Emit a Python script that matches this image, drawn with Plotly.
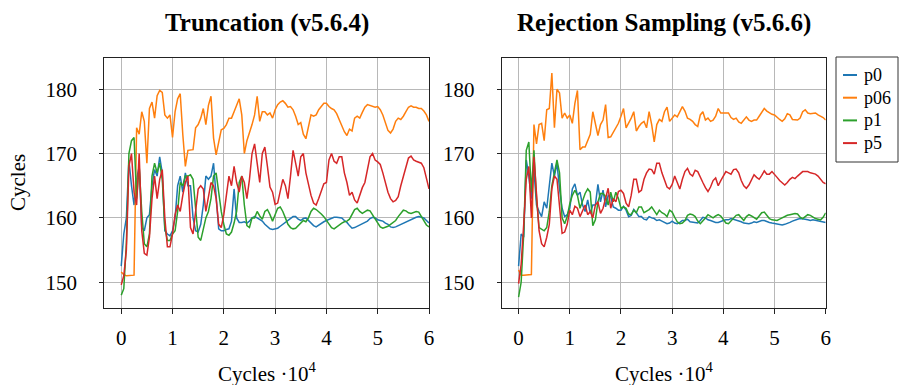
import numpy as np
import plotly.graph_objects as go

# x grid in units of 10^4 cycles
cycles = np.round(np.arange(0, 121) * 0.05, 2)
x_ticks = [0, 1, 2, 3, 4, 5, 6]
y_ticks = [150, 160, 170, 180]
series_names = ["p0", "p06", "p1", "p5"]
colors = ["#1f77b4", "#ff7f0e", "#2ca02c", "#d62728"]

# ---- Truncation (v5.6.4) ----
L_p06 = [151.6, 151.2, 151.0, 151.0, 151.0, 151.1, 174.0, 173.0, 176.5, 175.0, 168.5, 177.0, 178.0, 175.5, 179.0, 179.8, 179.5, 176.0, 175.5, 176.0,
         172.5, 176.5, 178.5, 179.3, 173.0, 168.0, 170.5, 170.5, 170.6, 174.0, 174.5, 175.5, 177.0, 174.5, 177.5, 178.9, 172.4, 169.8, 171.6, 173.7,
         173.9, 174.5, 175.5, 175.5, 176.5, 177.5, 178.5, 176.0, 170.0, 172.0, 173.2, 174.5, 176.0, 178.9, 175.0, 176.5, 176.5, 176.0, 176.3, 175.5,
         176.8, 177.6, 178.0, 178.2, 177.8, 177.2, 177.3, 176.8, 175.8, 174.5, 174.8, 173.0, 172.3, 174.0, 176.0, 175.8, 176.0, 176.8, 177.4, 177.8,
         177.8, 177.3, 177.0, 176.8, 176.2, 175.2, 174.5, 173.4, 172.8, 173.8, 173.5, 175.5, 175.8, 175.5, 176.4, 177.2, 177.6, 177.5, 177.3, 177.2,
         177.3, 176.8, 176.0, 174.8, 173.6, 173.2, 173.8, 175.0, 175.5, 175.3, 175.8, 176.5, 177.2, 177.4, 177.2, 177.2, 177.0, 177.0, 176.6, 176.0,
         175.0]
L_p0 = [152.5, 157.5, 160.0, 169.0, 165.0, 162.0, 166.0, 168.0, 158.5, 158.0, 160.0, 160.5, 165.0, 167.5, 166.5, 169.5, 167.0, 158.0, 157.5, 157.2,
        158.0, 160.0, 165.0, 166.5, 164.0, 167.0, 165.0, 165.0, 160.0, 158.0, 157.8, 159.0, 162.0, 166.5, 166.0, 166.5, 168.5, 163.0, 158.3, 158.0,
        158.0, 158.2, 158.3, 159.5, 164.5, 160.0, 159.3, 159.3, 159.4, 159.2, 159.5, 160.0, 160.2, 160.0, 159.8, 159.5, 159.0, 158.6, 158.3, 158.2,
        158.3, 158.4, 158.7, 159.0, 159.3, 159.7, 160.0, 160.2, 160.2, 159.8, 159.6, 159.9, 160.0, 159.6, 159.2, 158.8, 158.6, 158.9, 159.2, 159.4,
        159.6, 159.8, 160.0, 160.1, 160.1, 160.1, 160.0, 159.6, 159.3, 158.8, 158.4, 158.5, 158.7, 158.9, 159.0, 159.3, 159.5, 159.9, 160.1, 160.0,
        159.7, 159.6, 159.5, 159.2, 159.0, 158.6, 158.5, 158.6, 158.8, 159.0, 159.2, 159.4, 159.5, 159.7, 160.0, 160.1, 160.2, 160.1, 160.0, 159.6,
        159.2]
L_p1 = [148.0, 149.0, 156.0, 170.0, 172.0, 172.5, 163.0, 168.0, 161.0, 156.0, 155.5, 157.5, 166.5, 168.5, 167.0, 168.5, 166.0, 158.5, 156.5, 156.5,
        157.5, 158.0, 161.0, 165.5, 165.0, 166.5, 166.5, 166.7, 166.0, 162.0, 157.0, 156.5, 158.5, 160.0, 161.0, 163.0, 166.5, 167.0, 164.0, 161.0,
        159.0, 157.5, 157.3, 157.8, 159.2, 161.0, 165.5, 166.5, 162.0, 158.8, 158.5, 160.0, 160.0, 161.0, 160.3, 159.8, 161.0, 161.3, 160.5, 159.5,
        160.5, 161.5, 161.7, 161.0, 160.0, 159.0, 158.5, 158.3, 158.4, 158.8, 159.3, 159.6, 159.4, 160.0, 161.0, 161.5, 161.3, 161.0, 160.6, 160.2,
        159.6, 159.0, 158.5, 158.3, 158.6, 159.0, 159.2, 159.4, 159.5, 159.8, 160.5, 161.3, 161.5, 161.0, 160.7, 161.0, 161.2, 161.1, 160.5, 159.8,
        159.1, 158.6, 158.4, 158.5, 158.7, 159.0, 159.3, 159.6, 160.2, 160.8, 161.2, 161.1, 160.8, 160.7, 160.9, 161.0, 160.9, 160.2, 159.5, 158.9,
        158.6]
L_p5 = [149.6, 151.0, 155.0, 168.0, 170.0, 164.0, 162.0, 170.0, 158.0, 154.5, 154.2, 157.0, 163.0, 166.5, 163.0, 166.0, 167.5, 160.0, 155.5, 155.5,
        157.5, 160.5, 162.0, 161.0, 163.5, 165.5, 166.5, 158.5, 157.5, 161.0, 164.5, 165.0, 164.5, 161.0, 163.0, 165.5, 165.0, 163.0, 159.0, 158.5,
        160.5, 164.0, 166.5, 165.0, 168.0, 165.5, 164.0, 166.5, 165.5, 163.0, 166.0, 170.0, 171.5, 168.5, 165.5, 170.0, 171.0, 168.0, 164.8, 164.0,
        162.1, 162.3, 164.0, 166.0, 165.0, 163.0, 166.5, 170.5, 168.5, 166.5, 169.5, 170.0, 167.0, 165.1, 163.5, 162.3, 162.0, 163.0, 164.3, 165.3,
        165.5, 169.0, 170.0, 168.8, 168.5, 169.5, 169.5, 167.0, 165.5, 163.5, 164.0, 162.8, 162.3, 163.5, 164.7, 165.5, 167.5, 169.5, 170.0, 169.0,
        168.7, 168.3, 167.0, 165.5, 164.0, 163.0, 162.5, 162.7, 163.3, 165.0, 166.5, 168.0, 169.3, 169.6, 169.0, 168.8, 168.6, 168.5, 167.8, 166.0,
        164.5]

# ---- Rejection Sampling (v5.6.6) ----
R_p06 = [151.9, 151.1, 151.1, 151.1, 151.1, 151.2, 174.5, 171.5, 174.5, 174.7, 172.0, 176.8, 177.0, 182.5, 174.0, 180.0, 179.4, 175.5, 176.3, 175.5,
         176.0, 174.7, 177.8, 179.8, 170.6, 171.0, 171.0, 172.0, 173.0, 176.5, 174.5, 172.8, 174.5, 175.2, 177.6, 172.5, 172.6, 173.3, 174.2, 174.7,
         175.8, 177.0, 174.0, 174.7, 175.5, 176.5, 173.5, 174.2, 174.7, 175.0, 174.0, 176.5, 174.5, 171.8, 174.5, 175.3, 175.0, 176.5, 177.2, 175.0,
         175.5, 176.0, 175.7, 176.5, 177.3, 176.6, 175.5, 175.3, 175.0, 174.5, 174.2, 176.0, 176.5, 175.2, 175.5, 175.0, 175.2, 175.8, 177.0, 176.3,
         176.3, 176.2, 176.3, 175.6, 175.3, 175.5, 174.9, 174.7, 175.3, 175.7, 175.2, 175.0, 175.2, 175.2, 175.8, 176.5, 177.0, 176.6, 176.3, 176.1,
         176.0, 175.6, 175.3, 175.0, 175.4, 176.2, 176.0, 175.3, 175.2, 175.2, 175.5, 176.5, 176.8, 176.3, 176.2, 176.2, 176.3, 176.0, 175.8, 175.6,
         175.2]
R_p0 = [152.5, 157.5, 157.0, 169.0, 166.5, 163.0, 167.5, 162.0, 161.0, 160.2, 162.5, 161.5, 165.0, 168.5, 166.5, 168.5, 164.5, 161.5, 160.2, 160.5,
        161.5, 164.5, 165.3, 163.5, 164.0, 162.0, 161.0, 162.8, 160.7, 162.0, 162.0, 165.2, 162.5, 164.3, 161.7, 163.5, 163.3, 161.7, 161.5, 161.2,
        161.2, 161.8, 161.2, 160.2, 160.4, 161.3, 160.8, 160.2, 160.2, 159.8, 159.7, 160.2, 160.0, 159.9, 159.6, 159.7, 159.5, 159.3, 159.1, 159.2,
        159.5, 159.2, 159.1, 159.3, 159.6, 159.6, 159.8, 159.4, 159.3, 159.2, 159.2, 159.6, 160.1, 160.0, 159.7, 159.6, 159.4, 159.3, 159.3, 159.5,
        159.6, 159.7, 159.7, 159.9, 159.8, 159.6, 159.5, 159.4, 159.2, 159.1, 159.1, 159.2, 159.4, 159.3, 159.5, 159.6, 159.6, 159.4, 159.3, 159.2,
        159.1, 159.0, 158.9, 158.9, 159.0, 159.1, 159.3, 159.5, 159.7, 159.8, 159.9, 159.9, 159.8, 159.7, 159.6, 159.7, 159.6, 159.5, 159.4, 159.4,
        159.3]
R_p1 = [147.7, 150.0, 157.5, 170.5, 171.8, 164.0, 170.5, 163.0, 158.5, 158.3, 158.0, 158.5, 161.0, 165.0, 167.0, 169.0, 167.0, 160.0, 159.1, 160.2,
        162.2, 163.5, 164.3, 163.5, 161.5, 162.8, 163.8, 164.5, 164.0, 158.8, 159.7, 162.5, 163.8, 163.8, 163.3, 162.0, 164.0, 162.5, 164.0, 163.0,
        161.5, 161.7, 161.5, 160.6, 160.5, 161.2, 160.8, 161.7, 161.7, 160.8, 161.0, 161.3, 161.7, 161.0, 160.5, 161.2, 160.8, 160.6, 160.2, 161.2,
        160.9, 160.1, 159.4, 159.1, 159.2, 159.6, 160.4, 160.6, 160.5, 160.2, 159.5, 159.1, 159.5, 160.0, 160.5, 160.3, 160.0, 160.3, 160.5, 160.3,
        159.8, 159.2, 159.1, 159.5, 160.0, 160.4, 160.5, 160.0, 159.6, 160.2, 160.5, 160.3, 160.0, 159.8, 160.3, 160.8, 160.9, 160.4, 159.9, 159.7,
        159.6, 159.6, 159.8, 160.0, 160.3, 160.4, 160.5, 160.6, 160.7, 160.6, 160.1, 159.9, 160.2, 160.5, 160.4, 160.1, 159.9, 159.8, 159.7, 160.1,
        160.8]
R_p5 = [149.8, 152.8, 159.0, 166.0, 168.0, 160.0, 169.5, 164.0, 158.0, 156.0, 155.5, 157.0, 159.0, 164.5, 166.5, 166.0, 162.0, 157.6, 157.8, 159.0,
        161.2, 160.5, 161.8, 161.5, 160.2, 161.0, 162.0, 160.5, 161.0, 160.0, 162.0, 162.5, 160.7, 161.5, 163.0, 164.6, 161.5, 163.0, 162.5, 164.1,
        164.3, 163.8, 162.3, 161.7, 163.5, 166.0, 166.0, 164.0, 164.3, 166.0, 167.0, 167.6, 167.5, 166.8, 168.5, 168.5, 167.0, 165.8, 164.8, 164.5,
        165.2, 166.5, 165.5, 164.5, 166.0, 167.2, 167.7, 166.8, 166.5, 167.4, 167.2, 166.2, 165.5, 164.7, 164.1, 164.8, 165.8, 166.2, 165.0, 165.8,
        166.5, 167.2, 167.0, 166.8, 167.5, 167.6, 167.0, 165.8, 165.0, 164.6, 165.1, 165.8, 166.7, 166.3, 166.0, 166.6, 167.3, 166.8, 166.8, 167.2,
        166.8, 166.3, 165.8, 165.5, 165.1, 165.5, 166.0, 166.3, 166.1, 166.5, 166.8, 167.2, 167.2, 167.2, 167.0, 166.9, 166.8, 166.5, 166.0, 165.5,
        165.3]

panels = [
    ("Truncation (v5.6.4)", [L_p0, L_p06, L_p1, L_p5]),
    ("Rejection Sampling (v5.6.6)", [R_p0, R_p06, R_p1, R_p5]),
]
for _, ss in panels:
    for s in ss:
        assert len(s) == len(cycles), len(s)

W, H = 899, 385
FONT = "Liberation Serif"
X_LABEL = "Cycles ·10<sup>4</sup>"
Y_LABEL = "Cycles"


def px(xp):
    return xp / W


def py(yp):
    return (H - yp) / H


fig = go.Figure()
axis_ids = [("x", "y"), ("x2", "y2")]
for (title, ss), (xa, ya) in zip(panels, axis_ids):
    for name, col, vals in zip(series_names, colors, ss):
        fig.add_trace(go.Scatter(x=cycles, y=vals, mode="lines", name=name,
                                 line=dict(color=col, width=1.5),
                                 xaxis=xa, yaxis=ya, showlegend=False))

common_x = dict(range=[-0.33, 6.0], tickvals=x_ticks, ticktext=[str(t) for t in x_ticks],
                showgrid=True, gridcolor="#b8b8b8", gridwidth=1, zeroline=False,
                showline=True, linecolor="#222222", linewidth=1, mirror=True,
                ticks="outside", ticklen=5, tickcolor="#222222", ticklabelstandoff=6,
                automargin=False,
                tickfont=dict(family=FONT, size=21, color="black"))
common_y = dict(range=[146, 184.8], tickvals=y_ticks, ticktext=[str(t) for t in y_ticks],
                showgrid=True, gridcolor="#b8b8b8", gridwidth=1, zeroline=False,
                showline=True, linecolor="#222222", linewidth=1, mirror=True,
                ticks="outside", ticklen=4, tickcolor="#222222", ticklabelstandoff=18,
                automargin=False,
                tickfont=dict(family=FONT, size=21, color="black"))

X0 = [104.3, 501.7]
X1 = [429.0, 825.7]
fig.update_layout(
    width=W, height=H,
    margin=dict(l=0, r=0, t=0, b=0, autoexpand=False),
    paper_bgcolor="white", plot_bgcolor="white",
    font=dict(family=FONT, size=20, color="black"),
    xaxis=dict(domain=[px(X0[0]), px(X1[0])], anchor="y", **common_x),
    yaxis=dict(domain=[py(308), py(58.3)], anchor="x", **common_y),
    xaxis2=dict(domain=[px(X0[1]), px(X1[1])], anchor="y2", **common_x),
    yaxis2=dict(domain=[py(308), py(58.3)], anchor="x2", **common_y),
)

# panel titles and x-axis labels
for i, (title, _) in enumerate(panels):
    cx = (X0[i] + X1[i]) / 2
    fig.add_annotation(text=f"<b>{title}</b>", x=px(cx), y=py(23), xref="paper", yref="paper",
                       showarrow=False, xanchor="center", yanchor="middle",
                       font=dict(family=FONT, size=25, color="black"))
    fig.add_annotation(text=X_LABEL, x=px(cx), y=py(372), xref="paper", yref="paper",
                       showarrow=False, xanchor="center", yanchor="middle",
                       font=dict(family=FONT, size=21, color="black"))

# y-axis label
fig.add_annotation(text=Y_LABEL, x=px(18), y=py(183), xref="paper", yref="paper",
                   showarrow=False, xanchor="center", yanchor="middle", textangle=-90,
                   font=dict(family=FONT, size=21, color="black"))

# legend box (drawn manually to match the compact reference legend)
fig.add_shape(type="rect", xref="paper", yref="paper",
              x0=px(836), x1=px(898), y0=py(162), y1=py(57),
              line=dict(color="#333333", width=1), fillcolor="white")
for i, (name, col) in enumerate(zip(series_names, colors)):
    yc = 75 + i * 22.7
    fig.add_shape(type="line", xref="paper", yref="paper",
                  x0=px(843), x1=px(857), y0=py(yc), y1=py(yc),
                  line=dict(color=col, width=2))
    fig.add_annotation(text=name, x=px(862), y=py(yc), xref="paper", yref="paper",
                       showarrow=False, xanchor="left", yanchor="middle",
                       font=dict(family=FONT, size=18, color="black"))

# remove the default 8px page margin so the figure fills the window exactly
fig.write_html("out.html",
               config={"displayModeBar": False},
               post_script="document.body.style.margin='0';document.body.style.padding='0';"
                           "document.documentElement.style.overflow='hidden';")
